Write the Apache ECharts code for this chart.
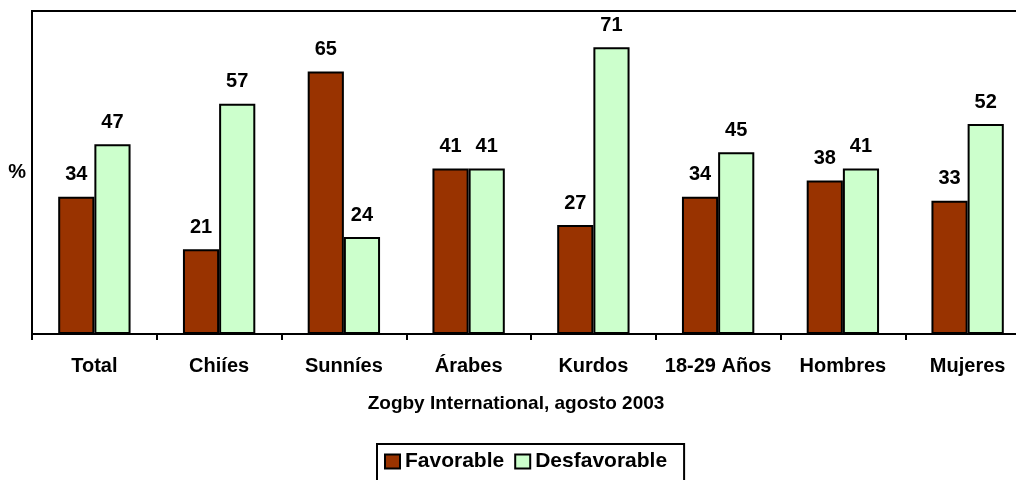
<!DOCTYPE html>
<html>
<head>
<meta charset="utf-8">
<script src="https://cdn.jsdelivr.net/npm/echarts@6/dist/echarts.min.js"></script>
<style>
  html, body { margin: 0; padding: 0; background: #fff; }
  #chart { width: 1016px; height: 480px; }
</style>
</head>
<body>
<div id="chart"></div>
<script>
// categorías y valores (%)
const categories = ['Total', 'Chiíes', 'Sunníes', 'Árabes', 'Kurdos', '18-29 Años', 'Hombres', 'Mujeres'];
const favorable = [34, 21, 65, 41, 27, 34, 38, 33];
const desfavorable = [47, 57, 24, 41, 71, 45, 41, 52];

const chart = echarts.init(document.getElementById('chart'));
const font = 'Liberation Sans, Arial, sans-serif';
const fs = 20;

const label = {
  show: true,
  position: 'top',
  distance: 12,
  color: '#000',
  fontFamily: font,
  fontWeight: 'bold',
  fontSize: fs
};

chart.setOption({
  animation: false,
  grid: {
    left: 32,
    width: 998,
    top: 11,
    bottom: 146,
    outerBoundsMode: 'none',
    show: true,
    borderColor: '#000',
    borderWidth: 2,
    backgroundColor: '#fff'
  },
  legend: {
    bottom: -14,
    left: 377,
    itemWidth: 15,
    itemHeight: 14,
    itemGap: 10,
    padding: [7, 17, 22, 7],
    borderColor: '#000',
    borderWidth: 2,
    textStyle: { fontFamily: font, fontWeight: 'bold', fontSize: 21, color: '#000' },
    data: [
      { name: 'Favorable', icon: 'rect' },
      { name: 'Desfavorable', icon: 'rect' }
    ]
  },
  xAxis: {
    type: 'category',
    data: categories,
    name: 'Zogby International, agosto 2003',
    nameLocation: 'middle',
    nameGap: 60,
    nameTextStyle: { fontFamily: font, fontWeight: 'bold', fontSize: 19, color: '#000', padding: [0, 30, 0, 0] },
    axisLine: { lineStyle: { color: '#000', width: 2 } },
    axisTick: { show: true, length: 6, lineStyle: { color: '#000', width: 2 } },
    axisLabel: { margin: 22, fontFamily: font, fontWeight: 'bold', fontSize: fs, color: '#000', interval: 0 }
  },
  yAxis: {
    type: 'value',
    min: 0,
    max: 80,
    name: '%',
    nameLocation: 'middle',
    nameRotate: 0,
    nameGap: 6,
    nameTextStyle: { fontFamily: font, fontWeight: 'bold', fontSize: fs, color: '#000' },
    axisLine: { show: true, lineStyle: { color: '#000', width: 2 } },
    axisTick: { show: false },
    axisLabel: { show: false },
    splitLine: { show: false }
  },
  series: [
    {
      name: 'Favorable',
      type: 'bar',
      data: favorable,
      barGap: '0%',
      barCategoryGap: '42%',
      itemStyle: { color: '#993300', borderColor: '#000', borderWidth: 2 },
      label: label
    },
    {
      name: 'Desfavorable',
      type: 'bar',
      data: desfavorable,
      itemStyle: { color: '#CCFFCC', borderColor: '#000', borderWidth: 2 },
      label: label
    }
  ]
});
</script>
</body>
</html>
